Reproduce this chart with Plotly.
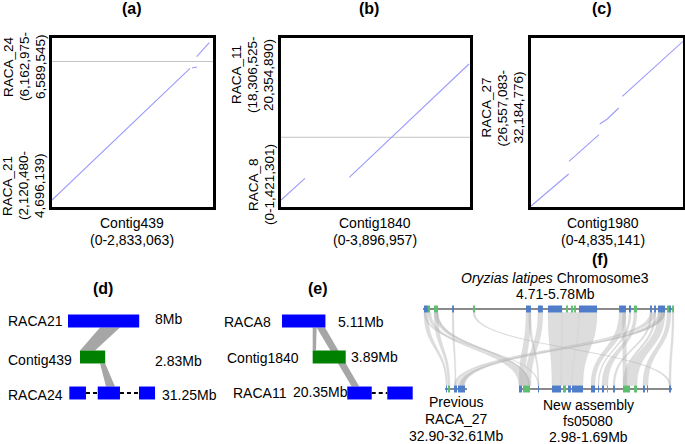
import plotly.graph_objects as go

W, H = 685, 444
FONT = "Liberation Sans, Arial, Helvetica, sans-serif"

# ======================= DATA =======================
panel_letters = ["(a)", "(b)", "(c)", "(d)", "(e)", "(f)"]

# ---- dot plots (a)-(c): contig (x) vs stacked RACA fragments (y) ----
dot_contigs = ["Contig439", "Contig1840", "Contig1980"]
dot_contig_lengths = [2833063, 3896957, 4835141]
dot_raca_names = [["RACA_21", "RACA_24"], ["RACA_8", "RACA_11"], ["RACA_27"]]
dot_raca_starts = [[2120480, 6162975], [0, 18306525], [26557083]]
dot_raca_ends = [[4696139, 6589545], [1421301, 20354890], [32184776]]
# alignment segments (bp on contig, bp on stacked RACA axis)
a_seg_x = [[0, 2428300], [2463600, 2551500], [2546200, 2768000]]
a_seg_y = [[115500, 2455100], [2460400, 2478200], [2661100, 2909800]]
b_seg_x = [[0, 494800], [1408300, 3876300]]
b_seg_y = [[133400, 579000], [599500, 2925600]]
c_seg_x = [[0, 1211200], [1220700, 2171900], [2194000, 2435000, 2796500], [2910600, 4835141]]
c_seg_y = [[0, 1082300], [1505300, 2391000], [2747300, 2913800, 3280000], [3669500, 5501100]]

# ---- schematic (d) ----
d_names = ["RACA21", "Contig439", "RACA24"]
d_sizes = ["8Mb", "2.83Mb", "31.25Mb"]
d_link_src = [(3.60, 5.84), (2.25, 2.83)]   # Mb offsets on RACA21 / Contig439
d_link_tgt = [(0.00, 1.69), (0.93, 1.94)]   # Mb offsets on Contig439 / RACA24 piece 2
# ---- schematic (e) ----
e_names = ["RACA8", "Contig1840", "RACA11"]
e_sizes = ["5.11Mb", "3.89Mb", "20.35Mb"]
e_link_src = [(3.61, 4.08), (4.08, 5.06)]   # Mb offsets on RACA8
e_link_tgt = [(0.00, 0.39), (0.52, 1.41)]   # Mb offsets on Contig1840 / RACA11 piece 1

# ---- synteny (f) ----
top_title = "<i>Oryzias latipes</i> Chromosome3"
top_range = (4.71, 5.78)
prev_range = (32.90, 32.61)
new_range = (2.98, 1.69)
top_gene_start = [4.714, 4.731, 4.757, 4.834, 4.923, 5.149, 5.200, 5.243, 5.320, 5.341, 5.354,
                  5.375, 5.546, 5.588, 5.609, 5.678, 5.695, 5.712, 5.750, 5.759, 5.772]
top_gene_end = [4.731, 4.740, 4.774, 4.842, 4.932, 5.170, 5.221, 5.303, 5.328, 5.349, 5.362,
                5.452, 5.575, 5.597, 5.622, 5.686, 5.703, 5.742, 5.759, 5.767, 5.780]
top_gene_kind = "bggbgbbbgggbbbgbbbgbg"
prev_gene_start = [32.887, 32.860, 32.781, 32.729]
prev_gene_end = [32.874, 32.834, 32.742, 32.636]
prev_gene_kind = "bgbb"
new_gene_start = [2.980, 2.946, 2.820, 2.702, 2.609, 2.567, 2.533, 2.373, 2.314, 2.280, 2.238,
                  2.187, 2.103, 2.010, 1.935, 1.901, 1.715]
new_gene_end = [2.955, 2.887, 2.811, 2.626, 2.584, 2.542, 2.440, 2.339, 2.306, 2.263, 2.230,
                2.171, 2.044, 1.985, 1.918, 1.892, 1.698]
new_gene_kind = "bgbbgbbbbbgbggbbb"
link_top_start = [4.714, 4.731, 4.757, 4.757, 4.834, 4.923, 5.149, 5.200, 5.243, 5.303, 5.375,
                  5.546, 5.588, 5.609, 5.678, 5.695, 5.712, 5.750, 5.772, 5.712, 5.678,
                  4.714, 4.765, 5.160, 5.725, 5.560]
link_top_end = [4.731, 4.744, 4.774, 4.774, 4.842, 4.932, 5.170, 5.221, 5.303, 5.375, 5.452,
                5.575, 5.597, 5.622, 5.686, 5.703, 5.742, 5.767, 5.780, 5.742, 5.703,
                4.722, 4.774, 5.170, 5.742, 5.575]
link_target = ["prev", "new", "prev", "new", "prev", "new", "new", "new", "new", "new", "new",
               "new", "new", "new", "new", "new", "new", "new", "new", "prev", "prev",
               "new", "new", "new", "prev", "new"]
link_tgt_start = [32.887, 2.980, 32.860, 2.946, 32.768, 1.715, 2.980, 2.929, 2.702, 2.626, 2.533,
                  2.373, 2.314, 2.280, 2.187, 2.103, 2.078, 1.935, 1.715, 32.729, 32.781,
                  2.820, 2.900, 2.820, 32.700, 2.103]
link_tgt_end = [32.867, 2.946, 32.834, 2.887, 32.755, 1.698, 2.929, 2.879, 2.626, 2.533, 2.440,
                2.339, 2.306, 2.230, 2.171, 2.078, 1.985, 1.892, 1.698, 32.636, 32.742,
                2.811, 2.887, 2.811, 32.650, 2.070]
prev_labels = ["Previous", "RACA_27", "32.90-32.61Mb"]
new_labels = ["New assembly", "fs05080", "2.98-1.69Mb"]
top_sub = "4.71-5.78Mb"

# ======================= LAYOUT HELPERS =======================


def xp(p):
    return p / W


def yp(p):
    return 1 - p / H


annotations = []
shapes = []


def ann(text, x, y, size=14, xanchor="center", angle=0, bold=False):
    annotations.append(dict(
        xref="paper", yref="paper", x=xp(x), y=yp(y),
        text=("<b>%s</b>" % text) if bold else text, showarrow=False,
        font=dict(family=FONT, size=size, color="black"),
        xanchor=xanchor, yanchor="middle", textangle=angle))


fig = go.Figure()

# ======================= (a)-(c) dot plots =======================
box_left = [52, 281, 530.5]
box_right = [213, 470, 683]
box_top, box_bot = 37.5, 206.5
title_x = [132, 369, 602]
xlab_x = [132, 375, 603]
ylab_centers = [[186, 67], [185, 75], [108]]
seg_x = [a_seg_x, b_seg_x, c_seg_x]
seg_y = [a_seg_y, b_seg_y, c_seg_y]

for i in range(3):
    sfx = "" if i == 0 else str(i + 1)
    lens = [e - s for s, e in zip(dot_raca_starts[i], dot_raca_ends[i])]
    total = sum(lens)
    cum = 0
    for L in lens[:-1]:
        cum += L
        fig.add_trace(go.Scatter(x=[0, dot_contig_lengths[i]], y=[cum, cum], mode="lines",
                                 line=dict(color="#c4c4c4", width=1),
                                 xaxis="x" + sfx, yaxis="y" + sfx, hoverinfo="skip"))
    xs, ys = [], []
    for sx, sy in zip(seg_x[i], seg_y[i]):
        xs += list(sx) + [None]
        ys += list(sy) + [None]
    fig.add_trace(go.Scatter(x=xs, y=ys, mode="lines",
                             line=dict(color="rgb(155,155,252)", width=1.1),
                             xaxis="x" + sfx, yaxis="y" + sfx, hoverinfo="skip"))
    axstyle = dict(showline=True, mirror=True, linecolor="black", linewidth=2.5,
                   showgrid=False, zeroline=False, showticklabels=False, ticks="",
                   fixedrange=True)
    fig.update_layout(**{
        "xaxis" + sfx: dict(domain=[xp(box_left[i]), xp(box_right[i])],
                            range=[0, dot_contig_lengths[i]], anchor="y" + sfx, **axstyle),
        "yaxis" + sfx: dict(domain=[yp(box_bot), yp(box_top)],
                            range=[0, total], anchor="x" + sfx, **axstyle),
    })
    ann(panel_letters[i], title_x[i], 8.5, size=16, bold=True)
    ann(dot_contigs[i], xlab_x[i], 223)
    ann("(0-%s)" % format(dot_contig_lengths[i], ","), xlab_x[i], 239.5)
    for name, s, e, cy in zip(dot_raca_names[i], dot_raca_starts[i], dot_raca_ends[i],
                              ylab_centers[i]):
        if s == 0:
            lines = [name, "(0-%s)" % format(e, ",")]
        else:
            lines = [name, "(%s-" % format(s, ","), "%s)" % format(e, ",")]
        n = len(lines)
        for j, t in enumerate(lines):
            ann(t, box_left[i] - 12 - 16 * (n - 1 - j), cy, size=13.5, angle=-90)

# ======================= (d), (e) schematics =======================
ROW_H = 0.18
blue, green, conn = "#0000ff", "#008000", "#a6a6a6"


def mb(s):
    return float(s.replace("Mb", ""))


def rect(xref, yref, x0, x1, yc, color, h=ROW_H):
    shapes.append(dict(type="rect", xref=xref, yref=yref, x0=x0, x1=x1, y0=yc - h, y1=yc + h,
                       fillcolor=color, line=dict(width=0), layer="above"))


def poly(xref, yref, top, bot, y_top, y_bot, color):
    path = "M %f,%f L %f,%f L %f,%f L %f,%f Z" % (top[0], y_top, top[1], y_top,
                                                  bot[1], y_bot, bot[0], y_bot)
    shapes.append(dict(type="path", path=path, xref=xref, yref=yref, fillcolor=color,
                       line=dict(width=0), layer="above"))


def dash(xref, yref, x0, x1, yc):
    shapes.append(dict(type="line", xref=xref, yref=yref, x0=x0, x1=x1, y0=yc, y1=yc,
                       line=dict(color="black", width=2, dash="4px,3px"), layer="above"))


# (d) layout: display start of each block (axis units = Mb at schematic scale)
d_top0, d_mid0 = 7.64, 8.99
d_pieces = [(7.79, 9.66), (10.98, 13.48), (15.62, 17.42)]
poly("x4", "y4", (d_top0 + d_link_src[0][0], d_top0 + d_link_src[0][1]),
     (d_mid0 + d_link_tgt[0][0], d_mid0 + d_link_tgt[0][1]), ROW_H, 1 - ROW_H, conn)
poly("x4", "y4", (d_mid0 + d_link_src[1][0], d_mid0 + d_link_src[1][1]),
     (d_pieces[1][0] + d_link_tgt[1][0], d_pieces[1][0] + d_link_tgt[1][1]),
     1 + ROW_H, 2 - ROW_H, conn)
rect("x4", "y4", d_top0, d_top0 + mb(d_sizes[0]), 0, blue)
rect("x4", "y4", d_mid0, d_mid0 + mb(d_sizes[1]), 1, green)
for p0, p1 in zip(d_pieces[:-1], d_pieces[1:]):
    dash("x4", "y4", p0[1], p1[0], 2)
for p in d_pieces:
    rect("x4", "y4", p[0], p[1], 2, blue)

# (e) layout
e_top0, e_mid0 = 7.88, 11.49
e_pieces = [(15.56, 18.44), (20.27, 23.26)]
poly("x5", "y5", (e_top0 + e_link_src[0][0], e_top0 + e_link_src[0][1]),
     (e_mid0 + e_link_tgt[0][0], e_mid0 + e_link_tgt[0][1]), ROW_H, 1 - ROW_H, conn)
poly("x5", "y5", (e_top0 + e_link_src[1][0], e_top0 + e_link_src[1][1]),
     (e_pieces[0][0] + e_link_tgt[1][0], e_pieces[0][0] + e_link_tgt[1][1]),
     ROW_H, 2 - ROW_H, conn)
rect("x5", "y5", e_top0, e_top0 + mb(e_sizes[0]), 0, blue)
rect("x5", "y5", e_mid0, e_mid0 + mb(e_sizes[1]), 1, green)
for p0, p1 in zip(e_pieces[:-1], e_pieces[1:]):
    dash("x5", "y5", p0[1], p1[0], 2)
for p in e_pieces:
    rect("x5", "y5", p[0], p[1], 2, blue)

hidden = dict(visible=False, fixedrange=True)
row_range = [(410 - 321) / 36.0, (300 - 321) / 36.0]
fig.update_layout(
    xaxis4=dict(domain=[0, xp(215)], range=[0, 215 / 8.9], anchor="y4", **hidden),
    yaxis4=dict(domain=[yp(410), yp(300)], range=row_range, anchor="x4", **hidden),
    xaxis5=dict(domain=[xp(215), xp(415)], range=[0, 200 / 8.5], anchor="y5", **hidden),
    yaxis5=dict(domain=[yp(410), yp(300)], range=row_range, anchor="x5", **hidden),
)
fig.add_trace(go.Scatter(x=[None], y=[None], xaxis="x4", yaxis="y4"))
fig.add_trace(go.Scatter(x=[None], y=[None], xaxis="x5", yaxis="y5"))

ann(panel_letters[3], 103, 288, size=16, bold=True)
ann(panel_letters[4], 318, 288, size=16, bold=True)
for t, y in zip(d_names, [321, 360, 395]):
    ann(t, 6, y, xanchor="left")
for t, x, y in zip(d_sizes, [153, 153, 160], [319, 361, 395]):
    ann(t, x, y, xanchor="left")
for t, x, y in zip(e_names, [247, 263, 259.5], [322, 357.5, 393]):
    ann(t, x, y)
for t, x, y in zip(e_sizes, [336, 349, 291], [321.5, 357, 392]):
    ann(t, x, y, xanchor="left")

# ======================= (f) synteny =======================
TOP_PX, PREV_PX, NEW_PX = (423, 674), (445, 467), (519, 672)
k = (top_range[1] - top_range[0]) / (TOP_PX[1] - TOP_PX[0])   # Mb per pixel on top track


def disp(track, v):
    """Map a track coordinate (Mb) onto the shared display axis of panel (f)."""
    if track == "top":
        return v
    rng, pxr = (prev_range, PREV_PX) if track == "prev" else (new_range, NEW_PX)
    frac = (v - rng[0]) / (rng[1] - rng[0])
    return top_range[0] + (pxr[0] - TOP_PX[0] + frac * (pxr[1] - pxr[0])) * k


GH = 3.5 / 80.0
yt, yb, ym = 1 - GH, GH, 0.5
for ts, te, tg, bs, be in zip(link_top_start, link_top_end, link_target,
                              link_tgt_start, link_tgt_end):
    a1, a2 = disp("top", ts), disp("top", te)
    b1, b2 = disp(tg, bs), disp(tg, be)
    path = ("M %f,%f L %f,%f C %f,%f %f,%f %f,%f L %f,%f C %f,%f %f,%f %f,%f Z" %
            (a1, yt, a2, yt, a2, ym, b2, ym, b2, yb, b1, yb, b1, ym, a1, ym, a1, yt))
    shapes.append(dict(type="path", path=path, xref="x6", yref="y6",
                       fillcolor="rgba(175,175,175,0.42)",
                       line=dict(width=0.4, color="rgba(200,200,200,0.5)"), layer="above"))

for track, rng, yc in [("top", top_range, 1), ("prev", prev_range, 0), ("new", new_range, 0)]:
    shapes.append(dict(type="line", xref="x6", yref="y6", x0=disp(track, rng[0]),
                       x1=disp(track, rng[1]), y0=yc, y1=yc,
                       line=dict(color="#8a8a8a", width=2), layer="above"))

gcol = {"b": "#4f7dc9", "g": "#5cbf6e"}
for track, starts, ends, kinds, yc in [
        ("top", top_gene_start, top_gene_end, top_gene_kind, 1),
        ("prev", prev_gene_start, prev_gene_end, prev_gene_kind, 0),
        ("new", new_gene_start, new_gene_end, new_gene_kind, 0)]:
    for s, e, kd in zip(starts, ends, kinds):
        x0, x1 = sorted([disp(track, s), disp(track, e)])
        shapes.append(dict(type="rect", xref="x6", yref="y6", x0=x0, x1=x1,
                           y0=yc - GH, y1=yc + GH, fillcolor=gcol[kd],
                           line=dict(width=0), layer="above"))

fig.update_layout(
    xaxis6=dict(domain=[xp(415), 1],
                range=[top_range[0] - (TOP_PX[0] - 415) * k, top_range[1] + (685 - TOP_PX[1]) * k],
                anchor="y6", **hidden),
    yaxis6=dict(domain=[yp(400), yp(298)], range=[-11 / 80.0, 1 + 11 / 80.0], anchor="x6", **hidden),
)
fig.add_trace(go.Scatter(x=[None], y=[None], xaxis="x6", yaxis="y6"))

ann(panel_letters[5], 600, 259, size=16, bold=True)
ann(top_title, 555, 277.5)
ann(top_sub, 555, 294)
for j, t in enumerate(prev_labels):
    ann(t, 456, 402 + 17 * j)
for j, t in enumerate(new_labels):
    ann(t, 588, 405 + 16 * j)

fig.update_layout(
    width=W, height=H, margin=dict(l=0, r=0, t=0, b=0),
    paper_bgcolor="white", plot_bgcolor="rgba(0,0,0,0)",
    showlegend=False, hovermode=False,
    annotations=annotations, shapes=shapes,
    font=dict(family=FONT, size=14, color="black"),
)
# the page body's default 8px margin would push the figure off the window's origin
fig.write_html("out.html", config={"displayModeBar": False},
               post_script="document.body.style.margin='0px';")
